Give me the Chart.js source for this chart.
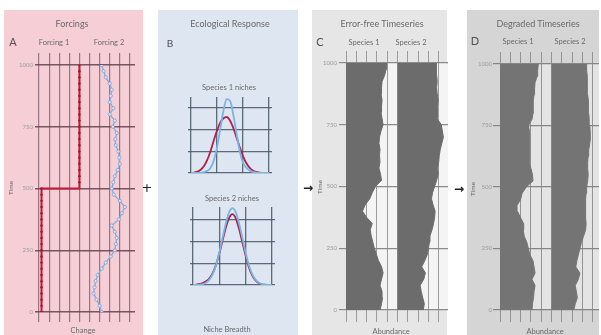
<!DOCTYPE html>
<html>
<head>
<meta charset="utf-8">
<script src="https://cdn.jsdelivr.net/npm/chart.js@4.4.1/dist/chart.umd.min.js"></script>
<style>
  body { margin: 0; width: 601px; height: 335px; position: relative; overflow: hidden; background: #fff; font-family: Lato, "Open Sans", sans-serif; }
  .panel, canvas, .t { position: absolute; }
  .t { transform: translate(-50%, -50%); white-space: nowrap; color: #6a6a6a; line-height: 1; }
  .rot { transform: translate(-50%, -50%) rotate(-90deg); }
</style>
</head>
<body>
<div class="panel" style="left:4px;top:10px;width:139px;height:325px;background:#f6cfd6"></div>
<div class="panel" style="left:158px;top:10px;width:140px;height:325px;background:#dde6f1"></div>
<div class="panel" style="left:312px;top:10px;width:135px;height:325px;background:#e6e6e6"></div>
<div class="panel" style="left:467px;top:10px;width:132px;height:325px;background:#d5d5d5"></div>

<canvas id="forcings" width="139" height="325" style="left:4px;top:10px"></canvas>
<canvas id="niche1" width="100" height="90" style="left:180px;top:90px"></canvas>
<canvas id="niche2" width="100" height="92" style="left:180px;top:200px"></canvas>
<canvas id="clean" width="137" height="325" style="left:312px;top:10px"></canvas>
<canvas id="degraded" width="134" height="325" style="left:467px;top:10px"></canvas>

<div class="t" style="left:72px;top:23px;font-size:9px">Forcings</div>
<div class="t" style="left:13px;top:41px;font-size:11px;color:#505050">A</div>
<div class="t" style="left:54px;top:43px;font-size:7.5px">Forcing 1</div>
<div class="t" style="left:109px;top:43px;font-size:7.5px">Forcing 2</div>
<div class="t rot" style="left:11px;top:188px;font-size:6.5px">Time</div>
<div class="t" style="left:83px;top:331px;font-size:7.5px">Change</div>

<div class="t" style="left:230px;top:23px;font-size:9px">Ecological Response</div>
<div class="t" style="left:170px;top:43px;font-size:10px;color:#505050">B</div>
<div class="t" style="left:229px;top:88px;font-size:7.5px">Species 1 niches</div>
<div class="t" style="left:232px;top:199px;font-size:7.5px">Species 2 niches</div>
<div class="t" style="left:227px;top:330px;font-size:7.5px">Niche Breadth</div>

<div class="t" style="left:382px;top:23px;font-size:9px">Error-free Timeseries</div>
<div class="t" style="left:320px;top:41px;font-size:11px;color:#505050">C</div>
<div class="t" style="left:364px;top:43px;font-size:7.5px">Species 1</div>
<div class="t" style="left:411px;top:43px;font-size:7.5px">Species 2</div>
<div class="t rot" style="left:320px;top:187px;font-size:6.5px">Time</div>
<div class="t" style="left:391px;top:332px;font-size:7.5px">Abundance</div>

<div class="t" style="left:538px;top:23px;font-size:9px">Degraded Timeseries</div>
<div class="t" style="left:475px;top:40px;font-size:11px;color:#505050">D</div>
<div class="t" style="left:518px;top:42px;font-size:7.5px">Species 1</div>
<div class="t" style="left:570px;top:42px;font-size:7.5px">Species 2</div>
<div class="t rot" style="left:473px;top:189px;font-size:6.5px">Time</div>
<div class="t" style="left:545px;top:332px;font-size:7.5px">Abundance</div>

<div class="t" style="left:147px;top:187px;font-size:13px;color:#222;font-family:'DejaVu Sans'">+</div>
<div class="t" style="left:308px;top:188px;font-size:12px;color:#222;font-weight:bold;font-family:'DejaVu Sans'">&#8594;</div>
<div class="t" style="left:459px;top:189px;font-size:12px;color:#222;font-weight:bold;font-family:'DejaVu Sans'">&#8594;</div>

<script>
// time axis shared by all timeseries
const timeSteps = [0, 25, 50, 75, 100, 125, 150, 175, 200, 225, 250, 275, 300, 325, 350, 375, 400, 425, 450, 475,
  500, 525, 550, 575, 600, 625, 650, 675, 700, 725, 750, 775, 800, 825, 850, 875, 900, 925, 950, 975, 1000];
const timeTicks = [0, 250, 500, 750, 1000];
const timeTickLabels = ['0', '250', '500', '750', '1000'];
const changeTicks = [0, 1, 2, 3, 4, 5, 6, 7, 8, 9];

// panel A: forcings
const forcing1 = [0.25, 0.25, 0.25, 0.25, 0.25, 0.25, 0.25, 0.25, 0.25, 0.25, 0.25, 0.25, 0.25, 0.25, 0.25, 0.25, 0.25, 0.25, 0.25, 0.25,
  0.25, 4, 4, 4, 4, 4, 4, 4, 4, 4, 4, 4, 4, 4, 4, 4, 4, 4, 4, 4, 4];
const forcing2 = [6.2, 6.0, 5.7, 5.4, 5.5, 5.6, 5.8, 6.2, 6.6, 7.1, 7.5, 7.6, 7.7, 7.5, 7.2, 7.9, 8.2, 8.5, 8.0, 7.4,
  7.2, 7.35, 7.5, 7.8, 8.0, 7.95, 7.85, 7.6, 7.55, 7.7, 7.3, 7.5, 7.0, 7.35, 7.0, 7.1, 7.2, 7.0, 6.6, 6.4, 6.2];

// panel B: niches
const nicheTicks = [0, 1, 2, 3];
const nichePos = [0, 0.125, 0.25, 0.375, 0.5, 0.625, 0.75, 0.875, 1, 1.125, 1.25, 1.375, 1.5,
  1.625, 1.75, 1.875, 2, 2.125, 2.25, 2.375, 2.5, 2.625, 2.75, 2.875, 3];
const sp1NicheBlue = [0, 0, 0, 0.01, 0.04, 0.1, 0.23, 0.57, 1.18, 2.02, 2.88, 3.4, 3.33,
  2.7, 1.82, 1.01, 0.47, 0.25, 0.12, 0.05, 0.02, 0, 0, 0, 0];
const sp1NicheRed = [0, 0.02, 0.06, 0.15, 0.32, 0.6, 1.0, 1.5, 1.95, 2.32, 2.52, 2.58, 2.42,
  2.08, 1.64, 1.18, 0.78, 0.46, 0.25, 0.12, 0.05, 0.02, 0, 0, 0];
const sp2NicheBlue = [0, 0.01, 0.02, 0.04, 0.11, 0.25, 0.5, 0.91, 1.49, 2.18, 2.85, 3.36, 3.55,
  3.36, 2.85, 2.18, 1.49, 0.91, 0.5, 0.25, 0.11, 0.04, 0.02, 0.01, 0];
const sp2NicheRed = [0, 0.02, 0.05, 0.09, 0.17, 0.31, 0.55, 0.93, 1.45, 2.05, 2.65, 3.1, 3.27,
  3.08, 2.6, 1.98, 1.36, 0.82, 0.44, 0.21, 0.09, 0.03, 0.01, 0, 0];

// panel C: error-free abundance
const cleanSp1 = [3.3, 3.45, 3.55, 3.5, 3.3, 3.45, 3.6, 3.45, 3.15, 2.95, 2.75, 2.6, 2.45, 2.35, 2.55, 2.0, 1.6, 1.85, 2.3, 2.55,
  2.85, 3.45, 3.35, 3.2, 3.3, 3.25, 3.3, 3.2, 3.25, 3.4, 3.6, 3.5, 3.4, 3.45, 3.5, 3.4, 3.45, 3.5, 3.75, 3.9, 3.95];
const cleanSp2 = [2.5, 2.6, 2.45, 2.3, 2.2, 2.55, 2.7, 2.35, 2.65, 2.9, 3.0, 3.1, 3.15, 3.35, 3.5, 3.6, 3.65, 3.45, 3.3, 3.4,
  3.6, 3.8, 3.95, 3.9, 4.0, 4.05, 4.15, 4.3, 4.45, 4.35, 4.25, 3.85, 3.85, 3.9, 3.95, 3.85, 3.8, 3.85, 3.8, 3.75, 3.8];

// panel D: degraded abundance
const degradedSp1 = [3.1, 3.15, 3.25, 3.3, 3.4, 3.1, 3.4, 3.3, 3.2, 2.9, 2.75, 2.6, 2.35, 2.25, 2.3, 2.0, 1.7, 1.65, 2.0, 2.15,
  2.55, 3.2, 3.15, 3.0, 2.85, 2.85, 2.85, 2.9, 2.9, 2.85, 2.75, 3.1, 3.2, 3.2, 3.25, 3.3, 3.35, 3.4, 3.6, 3.65, 3.72];
const degradedSp2 = [2.15, 2.3, 2.5, 2.4, 2.3, 2.6, 2.75, 2.35, 2.45, 2.6, 2.75, 2.9, 3.1, 3.3, 3.35, 3.3, 3.3, 3.3, 3.3, 3.35,
  3.4, 3.5, 3.55, 3.5, 3.5, 3.55, 3.6, 3.7, 3.77, 3.75, 3.7, 3.65, 3.6, 3.6, 3.55, 3.5, 3.5, 3.45, 3.45, 3.4, 3.4];

const species2Offset = 5;

const plotBg = {
  id: 'plotBg',
  beforeDraw(chart, args, opts) {
    if (!opts.color) return;
    const { ctx, chartArea: a } = chart;
    ctx.save();
    ctx.fillStyle = opts.color;
    ctx.fillRect(a.left, a.top, a.right - a.left, a.bottom - a.top);
    ctx.restore();
  }
};
Chart.register(plotBg);
Chart.defaults.font.family = 'Lato, "Open Sans", sans-serif';

const series = (vals, offset = 0) => vals.map((v, i) => ({ x: v + offset, y: timeSteps[i] }));

function timeScales(o) {
  const fixTicks = list => s => { s.ticks = list.map(v => ({ value: v })); };
  return {
    x: {
      type: 'linear', min: 0, max: o.xMax,
      afterBuildTicks: fixTicks(changeTicks),
      afterFit: s => { s.height = o.bottom; },
      ticks: { display: false },
      grid: { color: o.vGrid, lineWidth: o.vWidth, tickLength: o.tick },
      border: { display: false }
    },
    xTop: {
      type: 'linear', axis: 'x', position: 'top', min: 0, max: o.xMax,
      afterBuildTicks: fixTicks(changeTicks),
      afterFit: s => { s.height = o.top; },
      ticks: { display: false },
      grid: { drawOnChartArea: false, color: o.vGrid, lineWidth: o.vWidth, tickLength: 12 },
      border: { display: false }
    },
    y: {
      type: 'linear', min: 0, max: 1000,
      afterBuildTicks: fixTicks(timeTicks),
      afterFit: s => { s.width = o.left; },
      ticks: { font: { size: 6 }, color: '#9a9a9a', padding: o.labelPad, callback: (v, i) => timeTickLabels[i] },
      grid: { color: o.hGrid, lineWidth: o.hWidth, tickLength: o.yTick },
      border: { display: false }
    }
  };
}

// A
new Chart(document.getElementById('forcings'), {
  type: 'line',
  data: {
    datasets: [
      { data: series(forcing1), stepped: 'before', borderColor: '#c4183a', borderWidth: 2,
        pointRadius: 1.2, pointBackgroundColor: '#a5102c', pointBorderWidth: 0 },
      { data: series(forcing2), borderColor: '#8aa8dc', borderWidth: 1.3,
        pointRadius: 1.6, pointBackgroundColor: '#dbe5f6', pointBorderColor: '#7f9fd6', pointBorderWidth: 0.8 }
    ]
  },
  options: {
    indexAxis: 'y', responsive: false, animation: false,
    layout: { padding: { left: 0, right: 8, top: 0, bottom: 0 } },
    plugins: { legend: { display: false }, tooltip: { enabled: false } },
    scales: timeScales({ xMax: 9.5, left: 35, top: 55, bottom: 23, tick: 10, yTick: 4, labelPad: 2,
      vGrid: 'rgba(110,80,92,0.7)', vWidth: 1.2, hGrid: 'rgba(95,65,78,0.85)', hWidth: 1.5 })
  }
});

// B
function nicheChart(id, blue, red, xMin, xMax, yMax, pad) {
  const fixTicks = s => { s.ticks = nicheTicks.map(v => ({ value: v })); };
  const grid = { color: 'rgba(70,85,100,0.85)', lineWidth: 1.3, drawTicks: false };
  new Chart(document.getElementById(id), {
    type: 'line',
    data: {
      datasets: [
        { data: nichePos.map((p, i) => ({ x: p, y: blue[i] })), borderColor: '#78b4e6', borderWidth: 1.8,
          pointRadius: 0, cubicInterpolationMode: 'monotone' },
        { data: nichePos.map((p, i) => ({ x: p, y: red[i] })), borderColor: '#b3204c', borderWidth: 1.8,
          pointRadius: 0, cubicInterpolationMode: 'monotone' }
      ]
    },
    options: {
      responsive: false, animation: false,
      layout: { padding: pad },
      plugins: { legend: { display: false }, tooltip: { enabled: false } },
      scales: {
        x: { type: 'linear', min: xMin, max: xMax, afterBuildTicks: fixTicks, afterFit: s => { s.height = 0; },
          ticks: { display: false }, grid, border: { display: false } },
        y: { type: 'linear', min: 0, max: yMax, afterBuildTicks: fixTicks, afterFit: s => { s.width = 0; },
          ticks: { display: false }, grid, border: { display: false } }
      }
    }
  });
}
nicheChart('niche1', sp1NicheBlue, sp1NicheRed, -0.115, 3.115, 3.5, { left: 8, right: 8, top: 7, bottom: 7 });
nicheChart('niche2', sp2NicheBlue, sp2NicheRed, -0.114, 3.118, 3.6, { left: 10, right: 5, top: 7, bottom: 7 });

// C and D
function abundanceChart(id, sp1, sp2, fillColor, bg, o) {
  new Chart(document.getElementById(id), {
    type: 'line',
    data: {
      datasets: [
        { data: series(sp1), fill: { value: 0 }, backgroundColor: fillColor, borderColor: fillColor,
          borderWidth: 1, pointRadius: 0 },
        { data: series(sp2, species2Offset), fill: { value: species2Offset }, backgroundColor: fillColor,
          borderColor: fillColor, borderWidth: 1, pointRadius: 0 }
      ]
    },
    options: {
      indexAxis: 'y', responsive: false, animation: false,
      layout: { padding: { left: 0, right: o.right, top: 0, bottom: 0 } },
      plugins: { legend: { display: false }, tooltip: { enabled: false }, plotBg: { color: bg } },
      scales: timeScales(o)
    }
  });
}
abundanceChart('clean', cleanSp1, cleanSp2, '#6c6c6c', '#f4f4f4',
  { xMax: 9.9, left: 34, right: 1, top: 53, bottom: 25, tick: 12, yTick: 7, labelPad: 2,
    vGrid: '#9c9c9c', vWidth: 1, hGrid: '#8a8a8a', hWidth: 1.2 });
abundanceChart('degraded', degradedSp1, degradedSp2, '#747474', '#e4e4e4',
  { xMax: 9.6, left: 33, right: 2, top: 54, bottom: 25, tick: 12, yTick: 7, labelPad: 1,
    vGrid: '#939393', vWidth: 1, hGrid: '#858585', hWidth: 1.2 });
</script>
</body>
</html>
